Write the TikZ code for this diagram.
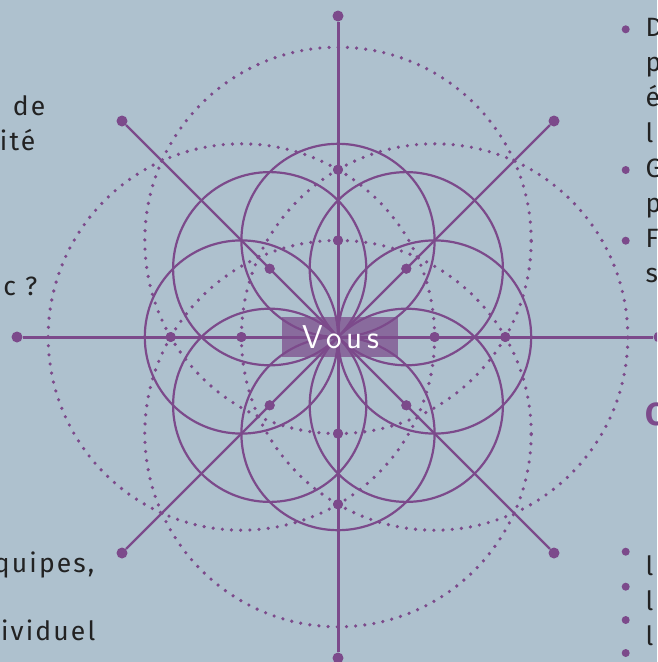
\documentclass[tikz,border=0pt]{standalone}
\usepackage{fontspec}
\usetikzlibrary{calc}
\setmainfont{Fira Sans}
\newfontfamily\bodyfont[LetterSpace=8]{Fira Sans}
\newfontfamily\vousfont[LetterSpace=14]{Latin Modern Sans}
\definecolor{bg}{HTML}{AEC1CE}
\definecolor{pur}{HTML}{7C4A8B}
\definecolor{ink}{HTML}{222222}
\tikzset{
  axisline/.style={draw=pur, line width=3pt},
  diagline/.style={draw=pur, line width=2.4pt},
  petal/.style={draw=pur, line width=2.2pt},
  dotcircle/.style={draw=pur, line width=3.6pt, line cap=round, dash pattern=on 0pt off 9.19pt},
  enddot/.style={circle, fill=pur, inner sep=0pt, minimum size=11pt},
  innerdot/.style={circle, fill=pur, inner sep=0pt, minimum size=10pt},
  bulletdot/.style={circle, fill=pur, inner sep=0pt, minimum size=8pt},
  bodytext/.style={font=\bodyfont\fontsize{26.5}{32}\selectfont, text=ink, inner sep=0pt},
  headtext/.style={font=\bodyfont\bfseries\fontsize{32}{36}\selectfont, text=pur, inner sep=0pt},
  vousbox/.style={fill=pur, fill opacity=0.72, text opacity=1, text=white, inner sep=0pt,
    minimum width=116pt, minimum height=40pt, font=\vousfont\fontsize{33}{36}\selectfont},
}
\begin{document}
\begin{tikzpicture}[x=1pt,y=-1pt]
\useasboundingbox (0,0) rectangle (657,662);
\fill[bg] (0,0) rectangle (657,662);
\clip (0,0) rectangle (657,662);
\coordinate (O) at (338,337);
% dots on axes at R and R*sqrt(3)
\foreach \a in {0,45,...,315} {\node[innerdot] (in\a) at ($(O)+(\a:96.6)$) {};}
\foreach \a in {0,90,180,270} {\node[innerdot] (out\a) at ($(O)+(\a:167.3)$) {};}
% dotted circles
\foreach \a in {0,90,180,270} {\draw[dotcircle] (in\a.center) circle (193.2pt);}
% solid petal circles
\foreach \a in {0,45,...,315} {\draw[petal] (in\a.center) circle (96.6pt);}
% end dots
\node[enddot] (T) at (338,16) {};
\node[enddot] (B) at (338,658) {};
\node[enddot] (L) at (17,337) {};
\node[enddot] (Rt) at (659,337) {};
\node[enddot] (TL) at (122,121) {};
\node[enddot] (TR) at (554,121) {};
\node[enddot] (BL) at (122,553) {};
\node[enddot] (BR) at (554,553) {};
\draw[axisline] (T) -- (B);
\draw[axisline] (L) -- (Rt);
\draw[diagline] (TL) -- (BR);
\draw[diagline] (TR) -- (BL);
% redraw inner dots on top
\foreach \a in {0,45,...,315} {\fill[pur] (in\a.center) circle (5pt);}
\foreach \a in {0,90,180,270} {\fill[pur] (out\a.center) circle (5pt);}
% centre label
\node[vousbox] (vous) at (339.8,336.7) {\hspace*{2pt}Vous};
% left texts (cut by the edge)
\node[bodytext, anchor=base east] (l1) at (45.5,115) {de};
\node[bodytext, anchor=base east] (l2) at (35.5,150) {ité};
\node[bodytext, anchor=base east] (l3) at (37.5,295) {c ?};
\node[bodytext, anchor=base east] (l4) at (94.5,572) {quipes,};
\node[bodytext, anchor=base east] (l5) at (95.5,640) {ividuel};
% right list (cut by the edge)
\node[bulletdot] (b1) at (625.7,29.3) {};
\node[bulletdot] (b2) at (625.7,170) {};
\node[bulletdot] (b3) at (625.7,240.7) {};
\node[bodytext, anchor=base west] (r1) at (645.5,36.5) {D};
\node[bodytext, anchor=base west] (r2) at (645.5,71.7) {p};
\node[bodytext, anchor=base west] (r3) at (645.5,106.9) {é};
\node[bodytext, anchor=base west] (r4) at (645.5,142.1) {l};
\node[bodytext, anchor=base west] (r5) at (645.5,177.3) {G};
\node[bodytext, anchor=base west] (r6) at (645.5,212.5) {p};
\node[bodytext, anchor=base west] (r7) at (645.5,247.7) {F};
\node[bodytext, anchor=base west] (r8) at (645.5,282.9) {s};
\node[headtext, anchor=base west] (h1) at (645,425) {C};
\node[bulletdot] (b4) at (625.7,551.7) {};
\node[bulletdot] (b5) at (625.7,586.7) {};
\node[bulletdot] (b6) at (625.7,620) {};
\node[bulletdot] (b7) at (625.7,653) {};
\node[bodytext, anchor=base west] (r9) at (645.5,575) {l};
\node[bodytext, anchor=base west] (r10) at (645.5,610) {l};
\node[bodytext, anchor=base west] (r11) at (645.5,645) {l};
\end{tikzpicture}
\end{document}
